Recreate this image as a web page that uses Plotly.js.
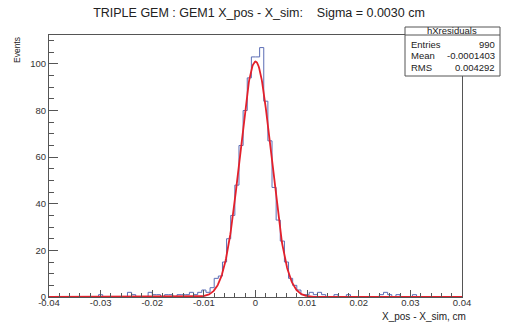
<!DOCTYPE html>
<html><head><meta charset="utf-8">
<script src="https://cdn.plot.ly/plotly-3.0.1.min.js"></script>
<style>html,body{margin:0;padding:0;background:#fff}#chart{width:510px;height:322px}</style>
</head><body><div id="chart"></div>
<script>
// ---- data ----
const binLow = -0.04;
const binHigh = 0.04;
const counts = [
  0,0,0,0,0,0,0,0,0,0,
  0,0,1,0,0,0,0,0,0,2,
  1,0,0,0,2,1,1,0,1,1,
  0,1,1,1,2,1,2,3,2,4,
  8,9,15,25,35,48,65,80,94,103,
  103,107,84,67,47,33,24,15,8,5,
  3,1,1,2,1,2,1,0,0,1,
  0,0,1,0,0,0,0,0,0,0,
  1,2,1,0,1,0,0,0,1,0,
  0,0,0,0,0,0,0,0,0,0
];
const fitConstant = [101];
const fitMean = [0.0];
const fitSigma = [0.0030];
const xTickVals = [-0.04,-0.03,-0.02,-0.01,0,0.01,0.02,0.03,0.04];
const xTickText = ['-0.04','-0.03','-0.02','-0.01','0','0.01','0.02','0.03','0.04'];
const yTickVals = [0,20,40,60,80,100];
const statsName = 'hXresiduals';
const statsLabels = ['Entries','Mean','RMS'];
const statsValues = ['990','-0.0001403','0.004292'];
const titleText = 'TRIPLE GEM : GEM1 X_pos - X_sim:\u00a0\u00a0\u00a0\u00a0Sigma = 0.0030 cm';
const xTitle = 'X_pos - X_sim, cm';
const yTitle = 'Events';

// ---- build traces ----
const nBins = counts.length;
const bw = (binHigh - binLow) / nBins;
const hx = [binLow], hy = [0];
for (let k = 0; k < nBins; k++) { hx.push(binLow + k * bw); hy.push(counts[k]); }
hx.push(binHigh); hy.push(counts[nBins - 1]);
hx.push(binHigh); hy.push(0);

const fx = [], fy = [];
const nS = 800;
for (let i = 0; i <= nS; i++) {
  const x = binLow + (binHigh - binLow) * i / nS;
  fx.push(x);
  fy.push(fitConstant[0] * Math.exp(-0.5 * Math.pow((x - fitMean[0]) / fitSigma[0], 2)));
}

// ---- geometry helpers (pixels -> paper) ----
const L = 49, R = 462, T = 35, B = 297;
const W = R - L, H = B - T;
const px = p => (p - L) / W;
const py = p => (B - p) / H;

const font = 'Liberation Sans, Arial, Helvetica, sans-serif';
const axCol = '#555';

const shapes = [
  {type:'rect', xref:'paper', yref:'paper', x0:px(405), x1:px(500), y0:py(76), y1:py(27),
   fillcolor:'#fff', line:{color:axCol, width:1}, layer:'above'},
  {type:'line', xref:'paper', yref:'paper', x0:px(405), x1:px(500), y0:py(35), y1:py(35),
   line:{color:axCol, width:1}, layer:'above'}
];
const statsY = [45, 56, 67];
const annotations = [
  {xref:'paper', yref:'paper', x:px(452), y:py(31), text:statsName, showarrow:false,
   xanchor:'center', yanchor:'middle', font:{family:font, size:9.5, color:'#222'}},
  {xref:'paper', yref:'paper', x:px(468), y:py(316), text:xTitle, showarrow:false,
   xanchor:'right', yanchor:'middle', font:{family:font, size:10, color:'#222'}},
  {xref:'paper', yref:'paper', x:px(17), y:py(35), text:yTitle, showarrow:false, textangle:-90,
   xanchor:'center', yanchor:'top', font:{family:font, size:8.5, color:'#222'}}
];
statsLabels.forEach((lab, i) => {
  annotations.push({xref:'paper', yref:'paper', x:px(409), y:py(statsY[i]), text:lab, showarrow:false,
    xanchor:'left', yanchor:'middle', font:{family:font, size:9.5, color:'#222'}});
  annotations.push({xref:'paper', yref:'paper', x:px(497), y:py(statsY[i]), text:statsValues[i], showarrow:false,
    xanchor:'right', yanchor:'middle', font:{family:font, size:9.5, color:'#222'}});
});

const data = [
  {x:hx, y:hy, type:'scatter', mode:'lines', line:{shape:'hv', color:'#5b6db5', width:1}, hoverinfo:'skip'},
  {x:fx, y:fy, type:'scatter', mode:'lines', line:{color:'#e3202b', width:1.8}, hoverinfo:'skip'}
];

const layout = {
  width:510, height:322, autosize:false,
  margin:{l:L, r:510-R, t:T, b:322-B, pad:0},
  paper_bgcolor:'#fff', plot_bgcolor:'#fff',
  showlegend:false,
  title:{text:titleText, x:259/510, xanchor:'center', y:1-13/322, yanchor:'middle',
         font:{family:font, size:12.5, color:'#222'}},
  xaxis:{range:[binLow, binHigh], tickmode:'array', tickvals:xTickVals, ticktext:xTickText,
         ticks:'inside', ticklen:7, tickwidth:1, tickcolor:axCol, ticklabelstandoff:-3,
         showline:true, linecolor:axCol, linewidth:1, mirror:true,
         showgrid:false, zeroline:false, fixedrange:true,
         tickfont:{family:font, size:9.5, color:'#333'},
         minor:{tick0:binLow, dtick:0.002, ticks:'inside', ticklen:4, tickcolor:axCol, showgrid:false}},
  yaxis:{range:[0, 112.4], tickmode:'array', tickvals:yTickVals,
         ticks:'inside', ticklen:9, tickwidth:1, tickcolor:axCol,
         showline:true, linecolor:axCol, linewidth:1, mirror:true,
         showgrid:false, zeroline:false, fixedrange:true,
         tickfont:{family:font, size:9.5, color:'#333'},
         minor:{tick0:0, dtick:5, ticks:'inside', ticklen:4.5, tickcolor:axCol, showgrid:false}},
  shapes:shapes, annotations:annotations
};

Plotly.newPlot('chart', data, layout, {displayModeBar:false, staticPlot:true});
</script></body></html>
